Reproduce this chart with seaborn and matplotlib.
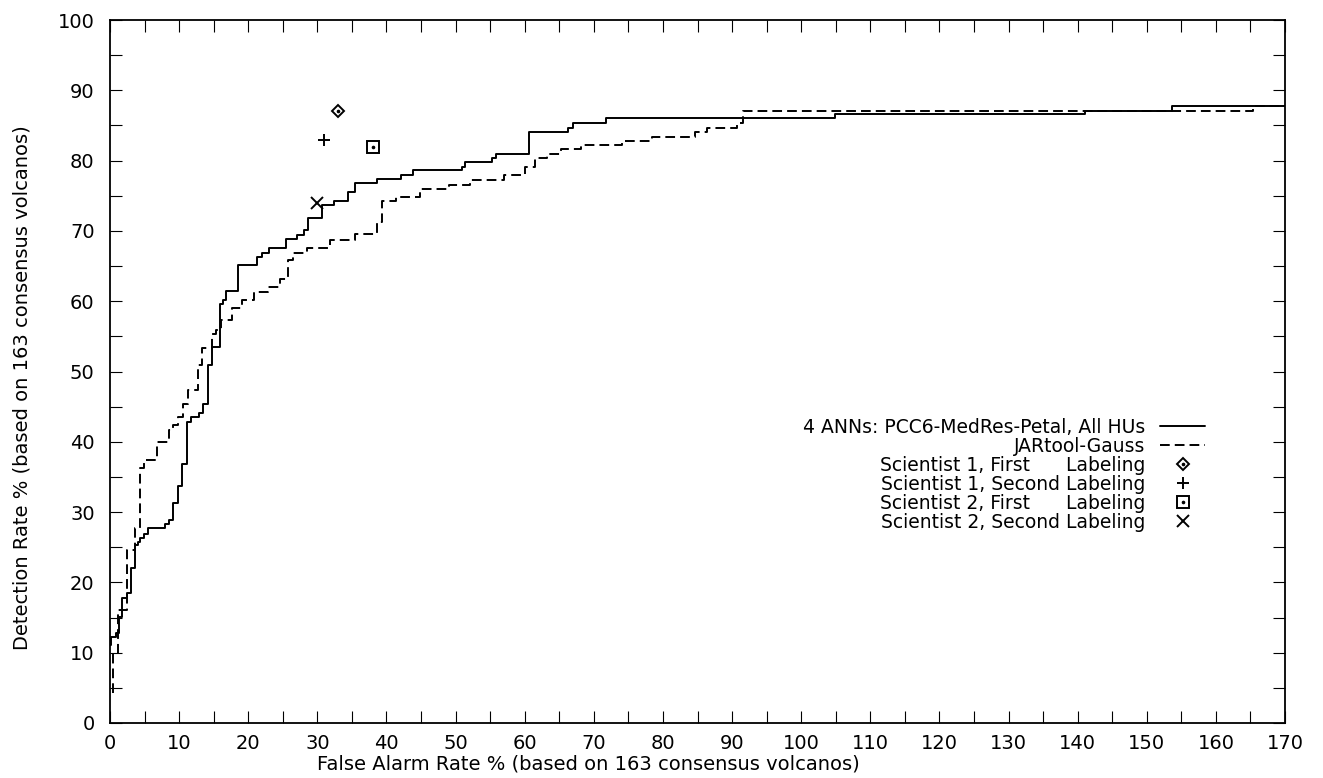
import matplotlib
matplotlib.use("Agg")
import matplotlib.pyplot as plt
from matplotlib.ticker import MultipleLocator
from matplotlib.legend_handler import HandlerTuple
import seaborn as sns
import pandas as pd

# ANN detector ROC steps (false alarm %, detection %)
ann_fa = [0, 0.2, 0.82, 1.33, 1.79, 2.45, 3.06, 3.57, 4.08, 4.39, 4.9, 5.51, 7.96,
          8.57, 9.08, 9.8, 10.41, 11.12, 11.73, 12.86, 13.47, 14.18, 14.69, 15.92,
          16.33, 16.84, 18.47, 21.33, 21.94, 23.06, 25.51, 27.04, 28.06, 28.67,
          30.61, 32.45, 34.39, 35.41, 38.57, 42.14, 43.88, 50.92, 51.43, 55.31,
          55.82, 60.61, 66.33, 66.94, 71.73, 104.9, 141.0, 153.6, 170]
ann_det = [11.1, 12.3, 12.8, 15.1, 17.8, 18.5, 22.0, 25.3, 25.8, 26.3, 26.9, 27.7,
           28.3, 28.9, 31.3, 33.7, 36.9, 42.8, 43.5, 44.1, 45.4, 50.9, 53.5, 59.6,
           60.1, 61.4, 65.1, 66.3, 66.9, 67.5, 68.8, 69.4, 70.1, 71.8, 73.7, 74.3,
           75.6, 76.8, 77.4, 78.0, 78.7, 79.1, 79.8, 80.3, 81.0, 84.0, 84.7, 85.3,
           86.0, 86.6, 87.1, 87.8, 87.8]

# JARtool ROC steps
jar_fa = [0.46, 0.46, 1.22, 2.45, 3.67, 4.29, 4.9, 6.73, 8.57, 9.18, 9.8, 10.51,
          11.22, 12.76, 13.37, 14.69, 15.31, 16.02, 17.65, 19.08, 20.82, 22.86,
          24.59, 25.82, 26.53, 28.47, 31.84, 35.41, 38.57, 39.39, 41.33, 44.9,
          49.08, 52.14, 56.94, 60.0, 61.43, 63.27, 65.31, 68.16, 74.08, 78.47,
          84.69, 86.33, 90.71, 91.63, 165.4, 170]
jar_det = [4.2, 10.0, 16.1, 24.6, 27.7, 36.3, 37.4, 40.0, 41.7, 42.4, 43.5, 45.4,
           47.3, 50.9, 53.4, 55.3, 55.9, 57.3, 59.0, 60.1, 61.3, 62.0, 63.1, 65.8,
           66.9, 67.6, 68.7, 69.5, 71.3, 74.3, 74.8, 76.0, 76.6, 77.3, 77.9, 79.1,
           80.3, 81.0, 81.6, 82.2, 82.8, 83.4, 84.0, 84.7, 85.3, 87.1, 87.8, 87.8]

# human labelers
sci_labels = ["Scientist 1, First      Labeling", "Scientist 1, Second Labeling",
              "Scientist 2, First      Labeling", "Scientist 2, Second Labeling"]
sci_fa = [33.0, 31.0, 38.0, 30.0]
sci_det = [87.0, 83.0, 82.0, 74.0]

sns.set_style("ticks")
plt.rcParams["font.family"] = ["DejaVu Sans"]
plt.rcParams.update({"text.color": "black", "axes.labelcolor": "black",
                     "xtick.color": "black", "ytick.color": "black",
                     "axes.edgecolor": "black"})

fig = plt.figure(figsize=(13.23, 7.78), dpi=100)
ax = fig.add_axes([110 / 1323, 55 / 778, 1175 / 1323, 703 / 778])

ann = pd.DataFrame({"fa": ann_fa, "det": ann_det})
jar = pd.DataFrame({"fa": jar_fa, "det": jar_det})
sns.lineplot(data=ann, x="fa", y="det", ax=ax, color="black", lw=1.4,
             drawstyle="steps-post", sort=False, estimator=None)
sns.lineplot(data=jar, x="fa", y="det", ax=ax, color="black", lw=1.4,
             drawstyle="steps-post", sort=False, estimator=None,
             linestyle=(0, (5, 2.6)))
h_ann, h_jar = ax.lines[0], ax.lines[1]

styles = [("D", 6.6), ("+", 9), ("s", 8.5), ("x", 8.5)]
handles = [h_ann, h_jar]
for (m, ms), fx, dy in zip(styles, sci_fa, sci_det):
    mk, = ax.plot([fx], [dy], ls="none", marker=m, ms=ms, mew=1.4,
                  mfc="none", mec="black", color="black")
    if m in ("D", "s"):
        # gnuplot draws a dot in the middle of these
        dot, = ax.plot([fx], [dy], ls="none", marker="o", ms=1.6, color="black")
        handles.append((mk, dot))
    else:
        handles.append(mk)

labels = ["4 ANNs: PCC6-MedRes-Petal, All HUs", "JARtool-Gauss"] + sci_labels
ax.legend(handles, labels, loc="center right", bbox_to_anchor=(0.932, 0.353),
          frameon=False, markerfirst=False, handlelength=2.4,
          labelspacing=0.0, handletextpad=0.8, borderpad=0, borderaxespad=0,
          fontsize=13.5, handler_map={tuple: HandlerTuple(ndivide=1)})

ax.set_xlim(0, 170)
ax.set_ylim(0, 100)
ax.xaxis.set_major_locator(MultipleLocator(10))
ax.xaxis.set_minor_locator(MultipleLocator(5))
ax.yaxis.set_major_locator(MultipleLocator(10))
ax.yaxis.set_minor_locator(MultipleLocator(5))
ax.tick_params(which="both", direction="in", top=True, right=True,
               length=8.5, width=0.8, labelsize=14)
ax.tick_params(axis="x", pad=8)
ax.tick_params(axis="y", pad=11)
for s in ax.spines.values():
    s.set_linewidth(1.3)

ax.set_xlabel("False Alarm Rate % (based on 163 consensus volcanos)", fontsize=14,
              va="center")
ax.set_ylabel("Detection Rate % (based on 163 consensus volcanos)", fontsize=14,
              va="center")
ax.xaxis.set_label_coords(0.4068, -0.0585)
ax.yaxis.set_label_coords(-0.0749, 0.4765)

fig.savefig("out.png", dpi=100)
